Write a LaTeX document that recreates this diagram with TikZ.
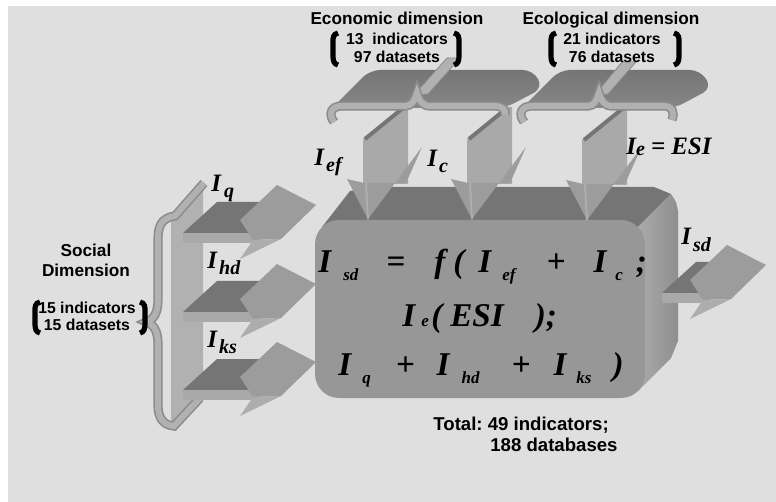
\documentclass[tikz,border=0pt]{standalone}
\usepackage{fontspec}
\setmainfont{Liberation Serif}
\setsansfont{Liberation Sans}
\usepackage{tikz}

\definecolor{bggray}{HTML}{DFDFDF}
\definecolor{platetop}{HTML}{757575}
\definecolor{platefront}{HTML}{868686}
\definecolor{boxfront}{HTML}{979797}
\definecolor{boxside}{HTML}{ABABAB}
\definecolor{boxsidedark}{HTML}{8E8E8E}
\definecolor{shaftgray}{HTML}{A9A9A9}
\definecolor{headgray}{HTML}{9C9C9C}
\definecolor{headlight}{HTML}{ADADAD}
\definecolor{tubedark}{HTML}{8C8C8C}
\definecolor{tubelight}{HTML}{B1B1B1}

\frenchspacing
\newcommand\lsub[1]{\raisebox{-3pt}{\fontsize{10}{10}\selectfont #1}}
\newcommand\esub[1]{\raisebox{-4pt}{\fontsize{8.5}{10}\selectfont #1}}

\tikzset{
  dimtitle/.style={font=\sffamily\bfseries\fontsize{8.6}{10}\selectfont, inner sep=0pt, align=center},
  dimcount/.style={font=\sffamily\bfseries\fontsize{7.9}{9}\selectfont, inner sep=0pt, align=center},
  varlabel/.style={font=\bfseries\itshape\fontsize{12.5}{14}\selectfont, inner sep=0pt, anchor=base west},
  eqline/.style={font=\bfseries\itshape\fontsize{16.6}{20}\selectfont, inner sep=0pt, anchor=base west},
  tube/.style={draw=tubedark, line width=0.8pt, double=tubelight, double distance=3pt},
  plate/.style={top color=platetop, bottom color=platefront, rounded corners=5pt},
  bracket/.style={draw=black, line width=2.6pt},
  pics/rarrow/.style={code={
    \fill[platetop] (0,0) -- (34,-31) -- (#1+12,-31) -- (#1,0) -- cycle;
    \fill[shaftgray] (0,0) rectangle (#1+5,10);
    \begin{scope}[shift={(#1-67,0)}]
      \fill[headgray] (57,-13) -- (94,-48) -- (133,-28) -- (98,6) -- (70,7) -- cycle;
      \fill[headlight] (70,7) -- (98,6) -- (57,26) -- cycle;
    \end{scope}
  }},
  pics/darrow/.style={code={
    \fill[shaftgray] (-5,-80) -- (34,-112) -- (40,-112) -- (40,-35) -- (-5,-35) -- cycle;
    \draw[platetop, line width=2pt] (-3,-80) -- (35,-111);
    \fill[headgray] (-21,-40) -- (0,0) -- (54,-72) -- (38,-36) -- (-4,-36) -- cycle;
    \draw[headlight, line width=1pt] (0,0) -- (-2,-36);
  }},
}

\begin{document}
\begin{tikzpicture}[x=0.5pt, y=-0.5pt]
\useasboundingbox (0,0) rectangle (776,502);
\fill[bggray] (8,6) rectangle (776,502);

% box
\fill[platetop] (322,227) -- (350,191) -- (372,187) -- (654,187) -- (671,194) -- (638,227) -- cycle;
\shade[left color=boxside, right color=boxsidedark] (671,194) -- (676,202) -- (678,211) -- (678,341) -- (671,358) -- (638,391) -- (645,374) -- (645,244) -- (638,227) -- cycle;
\fill[boxfront, rounded corners=12pt] (315,220) rectangle (645,398);

% social brace
\fill[tubelight] (171,222) -- (203,185) -- (203,396) -- (171,428) -- cycle;
\draw[tube] (204,183) -- (175,216) .. controls (160,218) and (158,228) .. (158,240) -- (158,300)
  .. controls (158,314) and (153,320) .. (146,322) .. controls (153,324) and (158,330) .. (158,344)
  -- (158,405) .. controls (158,418) and (163,425) .. (174,426) -- (200,398);

\foreach \dy in {0,79,157}
  \pic at (183,233+\dy) {rarrow=67};
\pic at (662,293) {rarrow=38};

\foreach \tx/\ty in {368/219,472/219,587/220}
  \pic at (\tx,\ty) {darrow};

% top braces
\shade[plate] (332,108) -- (370,70) -- (533,70) -- (543,88) -- (505,108) -- cycle;
\fill[tubelight, draw=tubedark] (413,96) -- (447,58) -- (460,58) -- (428,94) -- cycle;
\draw[tube] (334,122) .. controls (328,114) and (331,106) .. (342,106) -- (405,106)
  .. controls (412,106) and (415,100) .. (417,93) .. controls (419,100) and (422,106) .. (430,106)
  -- (494,106) .. controls (503,106) and (506,110) .. (505,115);
\shade[plate] (522,108) -- (560,70) -- (700,70) -- (712,88) -- (675,108) -- cycle;
\fill[tubelight, draw=tubedark] (594,96) -- (622,62) -- (636,62) -- (608,94) -- cycle;
\draw[tube] (524,122) .. controls (518,114) and (521,106) .. (532,106) -- (588,106)
  .. controls (594,106) and (597,100) .. (599,93) .. controls (601,100) and (604,106) .. (612,106)
  -- (664,106) .. controls (672,106) and (675,112) .. (672,120);

% texts
\node[dimtitle, anchor=base] (econtitle) at (397,25) {Economic dimension};
\node[dimcount] (econcount) at (397,48) {13\ \ indicators\\97 datasets};
\node[dimtitle, anchor=base] (ecotitle) at (611,25) {Ecological dimension};
\node[dimcount] (ecocount) at (612,48) {21 indicators\\76 datasets};
\node[dimtitle] (soctitle) at (86,260) {Social\\Dimension};
\node[dimcount, font=\sffamily\bfseries\fontsize{7.9}{8.5}\selectfont] (soccount) at (87,316) {15 indicators\\15 datasets};

\draw[bracket] (338,33) .. controls (333,34) and (333,38) .. (333,42) -- (333,56) .. controls (333,61) and (334,64) .. (338,65);
\draw[bracket] (454,33) .. controls (459,34) and (459,38) .. (459,42) -- (459,56) .. controls (459,61) and (458,64) .. (454,65);
\draw[bracket] (556,33) .. controls (551,34) and (551,38) .. (551,42) -- (551,56) .. controls (551,61) and (552,64) .. (556,65);
\draw[bracket] (674,33) .. controls (679,34) and (679,38) .. (679,42) -- (679,56) .. controls (679,61) and (678,64) .. (674,65);
\draw[bracket] (40,302) .. controls (35,303) and (35,307) .. (35,311) -- (35,324) .. controls (35,329) and (36,332) .. (40,333);
\draw[bracket] (140,302) .. controls (145,303) and (145,307) .. (145,311) -- (145,324) .. controls (145,329) and (144,332) .. (140,333);

\node[varlabel] (lef) at (314,166) {I\hspace{1pt}\lsub{ef}};
\node[varlabel] (lc) at (427,167) {I\hspace{1pt}\lsub{c}};
\node[varlabel] (le) at (626,155) {I\raisebox{-0.5pt}{\fontsize{10}{10}\selectfont e}\hspace{3pt}=\hspace{3pt}ESI};
\node[varlabel] (lsd) at (681,245) {I\hspace{1pt}\lsub{sd}};
\node[varlabel] (lq) at (211,192) {I\hspace{1.5pt}\lsub{q}};
\node[varlabel] (lhd) at (207,269) {I\hspace{1pt}\lsub{hd}};
\node[varlabel] (lks) at (207,347) {I\hspace{1pt}\lsub{ks}};

\node[eqline] (eqone) at (318,272) {I\hspace{6pt}\esub{sd}\hspace{14pt}=\hspace{14.5pt}f\hspace{4pt}(\hspace{7pt}I\hspace{5.5pt}\esub{ef}\hspace{15.5pt}+\hspace{14pt}I\hspace{4.5pt}\esub{c}\hspace{6.5pt};};
\node[eqline] (eqtwo) at (402,326) {I\hspace{3pt}{\fontsize{8.5}{10}\selectfont e}\hspace{1.2pt}(\hspace{4pt}ESI\hspace{15.5pt});};
\node[eqline] (eqthree) at (338,375) {I\hspace{5.5pt}\esub{q}\hspace{12.5pt}+\hspace{11pt}I\hspace{6pt}\esub{hd}\hspace{16pt}+\hspace{11.5pt}I\hspace{5pt}\esub{ks}\hspace{10.5pt})};

\node[font=\sffamily\bfseries\fontsize{9.3}{10.5}\selectfont, align=left, anchor=north west, inner sep=0pt] (total) at (433,417) {Total: 49 indicators;\\\hspace*{28.5pt}188 databases};
\end{tikzpicture}
\end{document}
